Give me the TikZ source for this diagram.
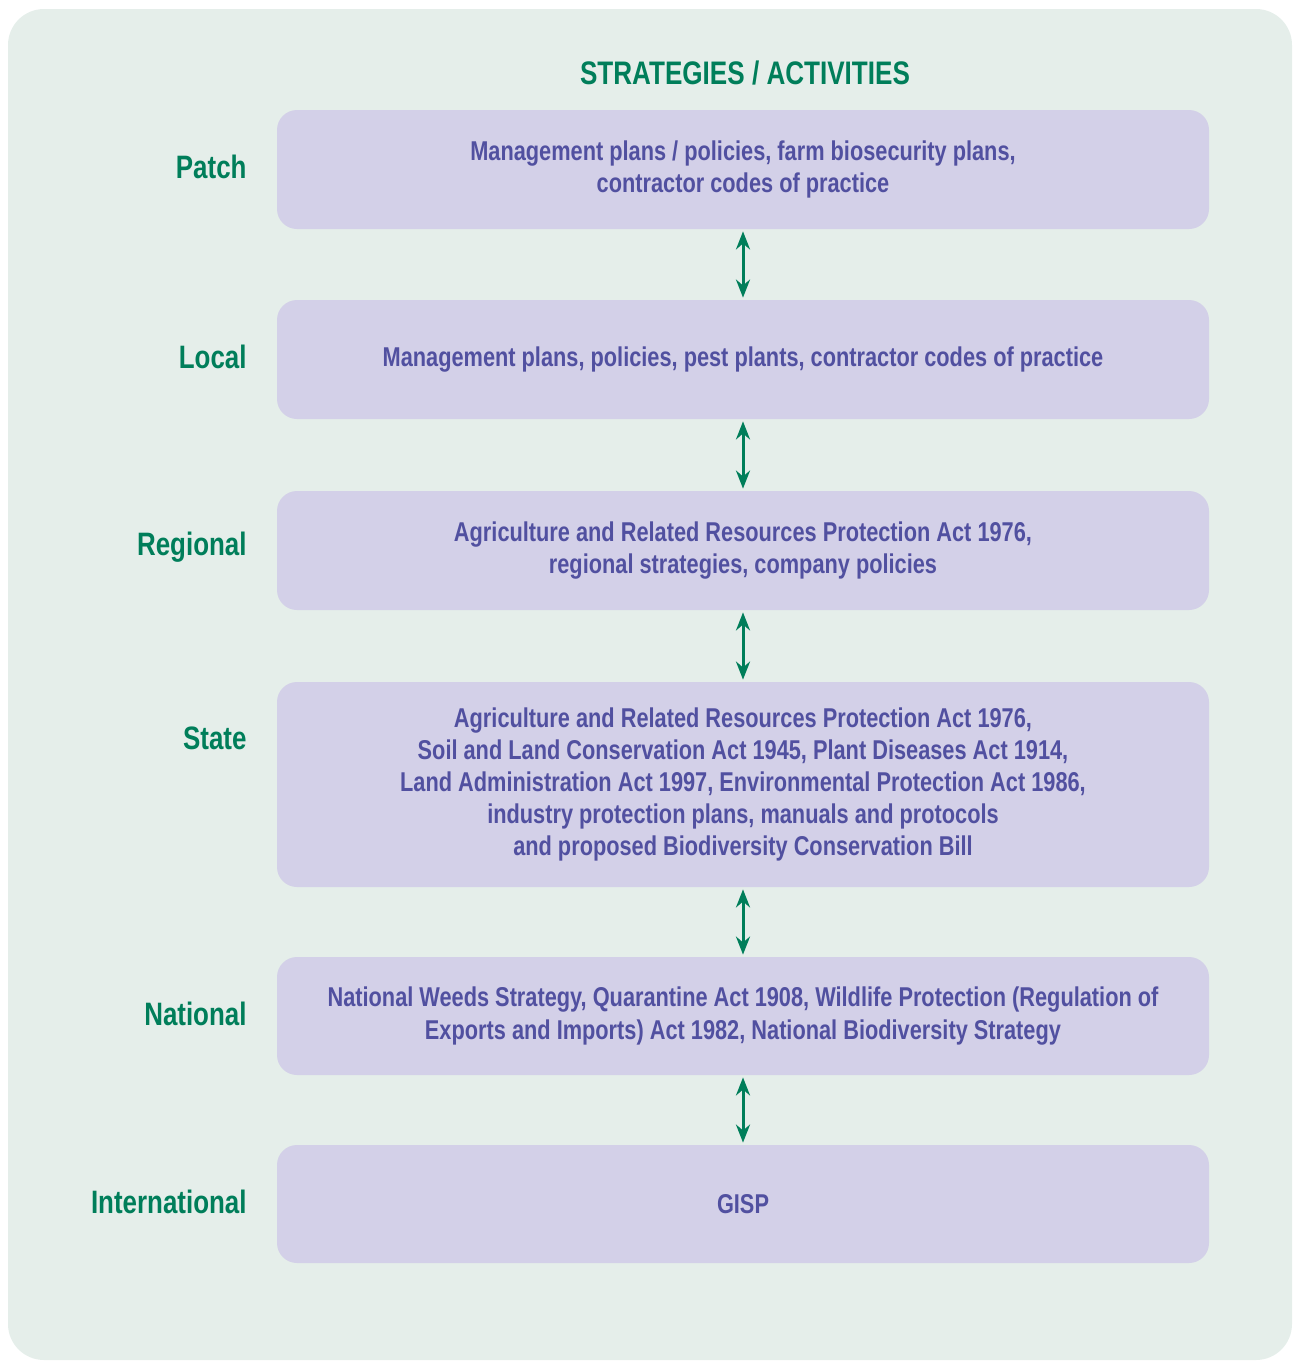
\documentclass[tikz,border=0pt]{standalone}
\usepackage{fontspec}
\setmainfont{Liberation Sans}[FakeStretch=0.80]
\usetikzlibrary{
    arrows.meta,
    positioning,
    calc
}
\definecolor{panelgreen}{HTML}{E5EEEA}
\definecolor{boxlilac}{HTML}{D3D0E8}
\definecolor{boxtext}{HTML}{5150A0}
\definecolor{levelgreen}{HTML}{007E5A}
\tikzset{
    % Colors
    panel color/.style={fill=panelgreen},
    level color/.style={levelgreen},
    %
    % Boxes and labels
    strategy box/.style={fill=boxlilac,rounded corners=10pt,minimum width=466pt,
        text=boxtext,align=center,font=\fontsize{13.6}{16.1}\selectfont\bfseries},
    level label/.style={level color,anchor=east,font=\fontsize{16.2}{19}\selectfont\bfseries},
    %
    % Arrows
    arrow tip/.tip={Stealth[length=9pt,width=7pt]},
    link/.style={<->,>={arrow tip},level color,line width=1.5pt,shorten <=1pt,shorten >=1pt}
}
\begin{document}
\begin{tikzpicture}[x=0.5pt,y=-0.5pt]
        \useasboundingbox (0,0) rectangle (1296,1361);
        \fill[panel color,rounded corners=18pt] (8,9) rectangle (1292,1360);
        \node[level color,font=\fontsize{16.3}{19}\selectfont\bfseries] (title) at (745,73) {STRATEGIES / ACTIVITIES};
        % strategy boxes
        \node[strategy box,minimum height=59.5pt] (patch) at (743,169.5)
            {Management plans / policies, farm biosecurity plans,\\contractor codes of practice};
        \node[strategy box,minimum height=59.5pt] (local) at (743,359.5)
            {Management plans, policies, pest plants, contractor codes of practice};
        \node[strategy box,minimum height=59.5pt] (regional) at (743,550.5)
            {Agriculture and Related Resources Protection Act 1976,\\regional strategies, company policies};
        \node[strategy box,minimum height=102.5pt] (state) at (743,784.5)
            {Agriculture and Related Resources Protection Act 1976,\\
             Soil and Land Conservation Act 1945, Plant Diseases Act 1914,\\
             Land Administration Act 1997, Environmental Protection Act 1986,\\
             industry protection plans, manuals and protocols\\
             and proposed Biodiversity Conservation Bill};
        \node[strategy box,minimum height=59pt] (national) at (743,1016)
            {National Weeds Strategy, Quarantine Act 1908, Wildlife Protection (Regulation of\\
             Exports and Imports) Act 1982, National Biodiversity Strategy};
        \node[strategy box,minimum height=59pt] (international) at (743,1204) {GISP};
        % level names
        \foreach \lvl/\name in {patch/Patch,local/Local,regional/Regional,state/State,
            national/National,international/International}
            \node[level label] (\lvl-label) at ($(\lvl.north west)+(-23,57)$) {\name};
        % links
        \foreach \upper/\lower in {patch/local,local/regional,regional/state,
            state/national,national/international}
            \draw[link] (\upper) -- (\lower);
    \end{tikzpicture}
\end{document}
